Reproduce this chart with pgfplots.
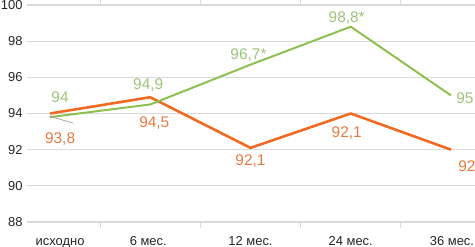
\documentclass[border=0pt]{standalone}
\usepackage{pgfplots}
\pgfplotsset{compat=1.18}
\usepackage{fontspec}
\setmainfont{Liberation Sans}
\definecolor{gline}{HTML}{8CC152}
\definecolor{oline}{HTML}{F26A21}
\definecolor{glab}{HTML}{9EC37A}
\definecolor{olab}{HTML}{E87A40}
\definecolor{gridc}{HTML}{DADADA}
\begin{document}
\begin{tikzpicture}[x=1bp,y=1bp]
\begin{axis}[
  scale only axis,
  width=448bp, height=217bp,
  xmin=-0.23, xmax=4.24,
  ymin=88, ymax=100,
  ytick={88,90,...,100},
  xtick={0.1,0.98,2,3,4.01},
  xticklabels={исходно,6 мес.,12 мес.,24 мес.,36 мес.},
  major tick length=0pt,
  extra x ticks={0.5,1.5,2.5,3.5},
  extra x tick labels={},
  extra x tick style={major tick length=6bp, tick align=outside, tick style={gridc, line width=1pt}, grid=none},
  ymajorgrids,
  grid style={gridc, line width=1.2pt},
  axis line style={draw=none},
  tick label style={font=\fontsize{13}{13}\selectfont, text=black!85},
  xticklabel style={anchor=base, yshift=-23bp},
  yticklabel style={anchor=east, xshift=-1bp},
  /pgf/number format/assume math mode=true,
  clip=false,
]
\addplot[oline, line width=2.6pt, line join=round] coordinates {(0,94) (1,94.9) (2,92.1) (3,94) (4,92)};
\addplot[gline, line width=2pt, line join=round] coordinates {(0,93.8) (1,94.5) (2,96.7) (3,98.8) (4,95)};
\draw[gray!70, line width=0.8pt] (axis cs:-0.01,93.86) -- (axis cs:0.23,93.47);
\begin{scope}[every node/.style={font=\fontsize{15.5}{15.5}\selectfont, inner sep=0pt}]
\node[text=glab] at (axis cs:0.10,94.91) {94};
\node[text=olab] at (axis cs:0.10,92.59) {93,8};
\node[text=glab] at (axis cs:0.98,95.58) {94,9};
\node[text=olab] at (axis cs:1.04,93.47) {94,5};
\node[text=glab] at (axis cs:1.98,97.23) {96,7*};
\node[text=olab] at (axis cs:2.0,91.37) {92,1};
\node[text=glab] at (axis cs:2.96,99.28) {98,8*};
\node[text=olab] at (axis cs:2.96,92.92) {92,1};
\node[text=glab] at (axis cs:4.14,94.86) {95};
\node[text=olab] at (axis cs:4.16,91.1) {92};
\end{scope}
\coordinate (BL) at (rel axis cs:0,0);
\coordinate (TR) at (rel axis cs:1,1);
\end{axis}
\pgfresetboundingbox
\path[use as bounding box] ([xshift=-27bp,yshift=-25bp]BL) rectangle ([yshift=5bp]TR);
\end{tikzpicture}
\end{document}
